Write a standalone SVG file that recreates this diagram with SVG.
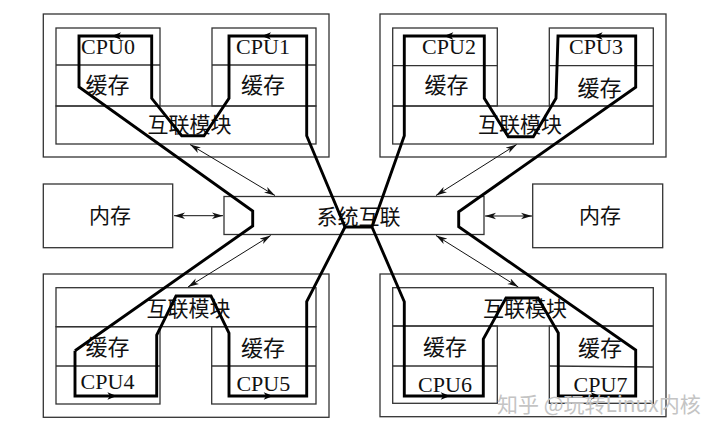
<svg xmlns="http://www.w3.org/2000/svg" width="720" height="433" viewBox="0 0 720 433">
<style>
.bx{fill:none;stroke:#333;stroke-width:1.3}
.ln{stroke:#333;stroke-width:1.3;fill:none}
.en{font-family:"Liberation Serif","Times New Roman",serif;font-size:22px;fill:#111;text-anchor:middle}
.zh{font-family:"Noto Sans CJK SC","Noto Sans CJK JP",sans-serif;font-size:21px;fill:#111;text-anchor:middle}
.zc{font-size:22px}
.thick{fill:none;stroke:#000;stroke-width:2.9;stroke-linejoin:miter}
.thin{fill:none;stroke:#111;stroke-width:1;marker-start:url(#ah);marker-end:url(#ah)}
.tip{fill:#000}
.wm{font-family:"Noto Sans CJK SC",sans-serif;font-size:21px;fill:#c4c4c4}
</style>
<defs>
<marker id="ah" markerWidth="12" markerHeight="8" refX="11" refY="4" orient="auto-start-reverse" markerUnits="userSpaceOnUse">
<path d="M0,0.8 L11,4 L0,7.2 L3,4 Z" fill="#111"/>
</marker>
</defs>
<rect width="720" height="433" fill="#fff"/>

<g id="node-tl">
<rect class="bx" x="43.3" y="14" width="285.7" height="143"/>
<rect class="bx" x="56" y="28" width="104" height="78"/>
<line class="ln" x1="56" y1="65" x2="160" y2="65"/>
<rect class="bx" x="212" y="28" width="104" height="78"/>
<line class="ln" x1="212" y1="65" x2="316" y2="65"/>
<rect class="bx" x="56" y="106" width="260" height="38"/>
<text class="en" x="108" y="54">CPU0</text>
<text class="en" x="263" y="54">CPU1</text>
<text class="zh zc" x="107.5" y="93">缓存</text>
<text class="zh zc" x="263" y="93">缓存</text>
<text class="zh" x="189.5" y="132">互联模块</text>
</g>

<g id="node-tr">
<rect class="bx" x="380" y="14" width="286" height="143"/>
<rect class="bx" x="392.7" y="28" width="104.6" height="78"/>
<line class="ln" x1="392.7" y1="65.7" x2="497.3" y2="65.7"/>
<rect class="bx" x="549.3" y="28" width="104" height="78"/>
<line class="ln" x1="549.3" y1="65.7" x2="653.3" y2="65.7"/>
<rect class="bx" x="392.7" y="106" width="260.6" height="38"/>
<text class="en" x="449" y="54">CPU2</text>
<text class="en" x="596" y="54">CPU3</text>
<text class="zh zc" x="446.5" y="93">缓存</text>
<text class="zh zc" x="599.5" y="95.5">缓存</text>
<text class="zh" x="520" y="132">互联模块</text>
</g>

<g id="node-mem-left">
<rect class="bx" x="43.3" y="184" width="129.4" height="63.7"/>
<text class="zh" x="110" y="223">内存</text>
</g>

<g id="node-sys">
<rect class="bx" x="224" y="196.5" width="260" height="38"/>
<text class="zh" x="358.5" y="224">系统互联</text>
</g>

<g id="node-mem-right">
<rect class="bx" x="532.7" y="184" width="130" height="63.7"/>
<text class="zh" x="600" y="223">内存</text>
</g>

<g id="node-bl">
<rect class="bx" x="43.3" y="274" width="285.7" height="143.3"/>
<rect class="bx" x="56" y="287.7" width="260" height="39"/>
<rect class="bx" x="56" y="326.7" width="104" height="77.3"/>
<line class="ln" x1="56" y1="366" x2="160" y2="366"/>
<rect class="bx" x="211.7" y="326.7" width="104.3" height="77.3"/>
<line class="ln" x1="211.7" y1="366" x2="316" y2="366"/>
<text class="zh" x="188.5" y="315.5">互联模块</text>
<text class="zh zc" x="107.5" y="355">缓存</text>
<text class="zh zc" x="263" y="355.5">缓存</text>
<text class="en" x="107.5" y="389">CPU4</text>
<text class="en" x="263.3" y="391">CPU5</text>
</g>

<g id="node-br">
<rect class="bx" x="380" y="274" width="286" height="142.7"/>
<rect class="bx" x="392.7" y="287.7" width="260.6" height="38.3"/>
<rect class="bx" x="392.7" y="326" width="104.6" height="77.3"/>
<line class="ln" x1="392.7" y1="366" x2="497.3" y2="366"/>
<rect class="bx" x="549.3" y="326" width="104" height="77.3"/>
<line class="ln" x1="549.3" y1="366" x2="653.3" y2="367"/>
<text class="zh" x="525" y="315.5">互联模块</text>
<text class="zh zc" x="445" y="355">缓存</text>
<text class="zh zc" x="600" y="356">缓存</text>
<text class="en" x="445" y="391.5">CPU6</text>
<text class="en" x="600.5" y="391.5">CPU7</text>
</g>

<g id="connectors">
<path class="thick" d="M75,350.7 L252.7,226 L252.7,211 L79,87 L79,36 L151.7,36 L151.7,98.3 L181.7,135.7 L204,135.7 L229,98.3 L229,36 L306.7,36 L306.7,135.7 L345,227 L372,227 L404.3,135.7 L404.3,36 L484.3,36 L484.3,98.3 L508.3,136.7 L533.3,136.7 L556,98.3 L558,36 L635.7,36 L635.7,87.3 L458.7,211.7 L458.7,226.7 L635.7,350 L635.7,396 L558.3,396 L558.3,333 L538,298 L506,298 L483.3,339 L483.3,396 L404.3,396 L404.3,301.7 L372,227"/>
<path class="thick" d="M345,227 L306.7,301.7 L306.7,396 L229,396 L229,333 L211,296 L176,296 L156.7,335 L156.7,396 L75,396 L75,350.7"/>
<polygon class="tip" points="111.7,36 121,32.3 118.5,36 121,39.7"/>
<polygon class="tip" points="261.7,36 271,32.3 268.5,36 271,39.7"/>
<polygon class="tip" points="444,36 453.3,32.3 450.8,36 453.3,39.7"/>
<polygon class="tip" points="593.3,36 602.6,32.3 600.1,36 602.6,39.7"/>
<polygon class="tip" points="116.7,396 107.4,392.3 109.9,396 107.4,399.7"/>
<polygon class="tip" points="273,396 263.7,392.3 266.2,396 263.7,399.7"/>
<polygon class="tip" points="450,396 440.7,392.3 443.2,396 440.7,399.7"/>
<polygon class="tip" points="600,396 590.7,392.3 593.2,396 590.7,399.7"/>
<line class="thin" x1="190" y1="144.5" x2="275" y2="195.5"/>
<line class="thin" x1="516.7" y1="144.5" x2="436" y2="195.5"/>
<line class="thin" x1="270.7" y1="235.5" x2="188" y2="287"/>
<line class="thin" x1="436" y1="235.5" x2="518.3" y2="287"/>
<line class="thin" x1="174" y1="215.7" x2="223" y2="215.7"/>
<line class="thin" x1="485" y1="216" x2="532" y2="216"/>
</g>

<text class="wm" x="497" y="412">知乎 @玩转Linux内核</text>
</svg>
